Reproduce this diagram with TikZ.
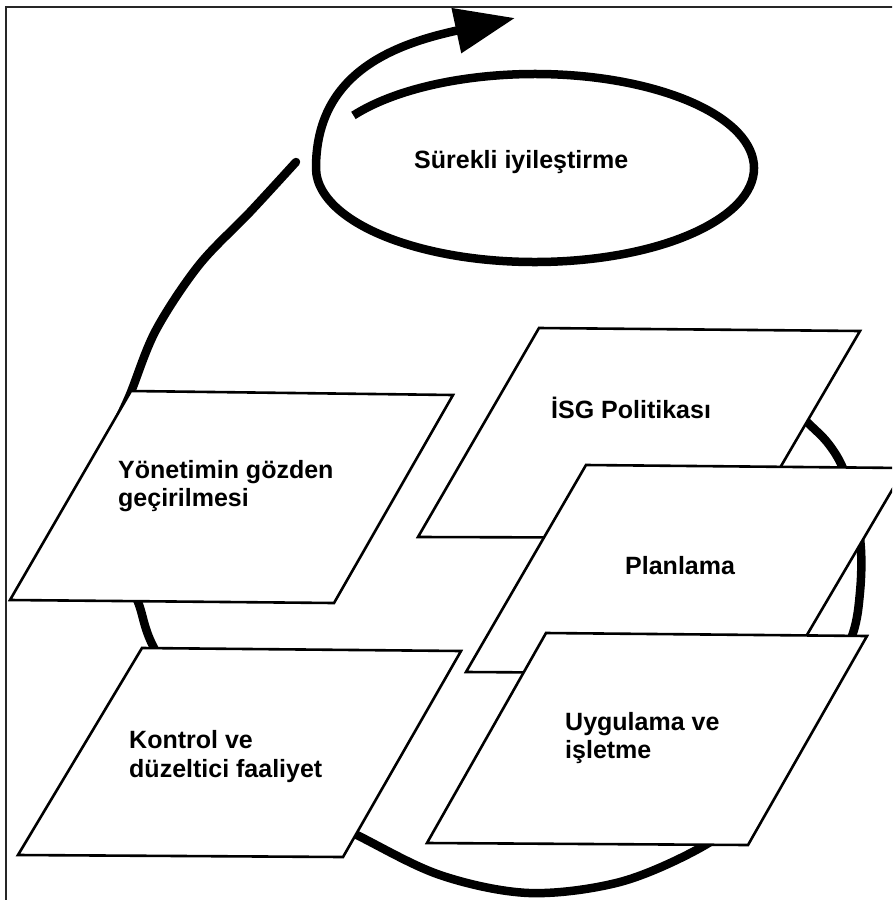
\documentclass[tikz,border=0pt]{standalone}
\usepackage{fontspec}
\setmainfont{Liberation Sans}
\usetikzlibrary{arrows.meta}
\tikzset{
  panel/.style={draw=black, fill=white, line width=2.6pt, line join=miter},
  loopline/.style={draw=black, line width=8.5pt, line cap=round},
  lbl/.style={inner sep=0pt, anchor=base west, font=\fontsize{25}{28}\selectfont\bfseries},
  framestyle/.style={draw=black!85, line width=2pt}
}
\begin{document}
\begin{tikzpicture}[x=1pt,y=-1pt]
\useasboundingbox (0,0) rectangle (892,900);
\clip (0,0) rectangle (892,900);
\fill[white] (0,0) rectangle (892,900);
% frame
\coordinate (fbl) at (6,910);
\coordinate (ftl) at (6,7);
\coordinate (ftr) at (900,7);
\draw[framestyle] (fbl) -- (ftl) -- (ftr);
% big cycle behind the panels
\draw[loopline] plot[smooth, tension=0.55] coordinates {
 (296,162) (250,212) (199,265) (156,330) (131,392) (110,445) (108,510)
 (120,565) (138,602) (153,646) (200,725) (270,790) (355,834) (440,875)
 (529,893) (620,882) (700,848) (750,810) (790,755) (828,690) (853,633) (860,592)
 (861,550) (855,505) (842,466) (827,442) (807,422) (785,400)};
% panels
\coordinate (y1) at (131,391); \coordinate (y2) at (453,395);
\coordinate (y3) at (334,603); \coordinate (y4) at (10,600);
\draw[panel] (y1) -- (y2) -- (y3) -- (y4) -- cycle;
\coordinate (k1) at (142,648); \coordinate (k2) at (461,651);
\coordinate (k3) at (343,857); \coordinate (k4) at (18,855);
\draw[panel] (k1) -- (k2) -- (k3) -- (k4) -- cycle;
\coordinate (i1) at (539,328); \coordinate (i2) at (860,331);
\coordinate (i3) at (739,538); \coordinate (i4) at (418,537);
\draw[panel] (i1) -- (i2) -- (i3) -- (i4) -- cycle;
\coordinate (p1) at (586,465); \coordinate (p2) at (905,468);
\coordinate (p3) at (784,674); \coordinate (p4) at (466,672);
\draw[panel] (p1) -- (p2) -- (p3) -- (p4) -- cycle;
\coordinate (u1) at (546,633); \coordinate (u2) at (867,636);
\coordinate (u3) at (748,845); \coordinate (u4) at (427,843);
\draw[panel] (u1) -- (u2) -- (u3) -- (u4) -- cycle;
% continuous improvement spiral
\coordinate (ec) at (535,168);
\coordinate (etip) at (515,18);
\draw[line width=8.5pt, -{Triangle[length=60pt,width=44pt]}]
  ([shift={(-146:219 and 94)}]ec) arc[start angle=-146, end angle=180, x radius=219, y radius=94]
  .. controls (316,75) and (390,45) .. (etip);
% labels
\node[lbl] (sur) at (414,168) {Sürekli iyileştirme};
\node[lbl] (isg) at (551,418) {İSG Politikası};
\node[lbl] (pla) at (625,574) {Planlama};
\node[lbl] (yon1) at (118,478) {Yönetimin gözden};
\node[lbl] (yon2) at (118,506) {geçirilmesi};
\node[lbl] (kon1) at (129,748) {Kontrol ve};
\node[lbl] (kon2) at (129,777) {düzeltici faaliyet};
\node[lbl] (uyg1) at (565,730) {Uygulama ve};
\node[lbl] (uyg2) at (565,758) {işletme};
\end{tikzpicture}
\end{document}
